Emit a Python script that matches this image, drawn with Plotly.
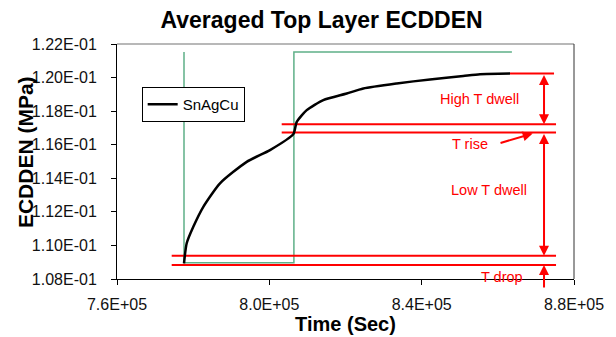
import plotly.graph_objects as go

# ---------------- data ----------------
time_s = [777594, 778303, 780036, 782662, 787048, 794059, 800178, 806297,
          807190, 809816, 814175, 820320, 824680, 833450, 842194, 850937,
          855324, 863202]
ecdden = [0.10893, 0.11013, 0.11111, 0.11230, 0.11370, 0.11498, 0.11568,
          0.11663, 0.11736, 0.11806, 0.11866, 0.11905, 0.11935, 0.11965,
          0.11989, 0.12010, 0.12020, 0.12024]

# scaled temperature profile (green)
temp_t = [777594, 777594, 806450, 806450, 863700]
temp_v = [0.12153, 0.10897, 0.10897, 0.12153, 0.12153]

# red reference levels
red_levels = [0.12024, 0.117226, 0.116732, 0.109387, 0.108833]
red_start = [863202, 803246, 803246, 774364, 774364]
red_end = [874756, 875281, 875281, 875281, 875281]

arrow_t = 872129
trise_tail = (860313, 0.116077)
trise_head = (869154, 0.116672)

x_ticks = [760000, 800000, 840000, 880000]
x_ticktext = ["7.6E+05", "8.0E+05", "8.4E+05", "8.8E+05"]
y_ticks = [0.108, 0.110, 0.112, 0.114, 0.116, 0.118, 0.120, 0.122]
y_ticktext = ["1.08E-01", "1.10E-01", "1.12E-01", "1.14E-01", "1.16E-01",
              "1.18E-01", "1.20E-01", "1.22E-01"]

labels = [("High T dwell", 855061, 0.118714),
          ("T rise", 852698, 0.116065),
          ("Low T dwell", 857687, 0.113297),
          ("T drop", 861022, 0.108149)]

FONT = "Liberation Sans, Arial, sans-serif"
RED = "#ff0000"

fig = go.Figure()

fig.add_trace(go.Scatter(x=temp_t, y=temp_v, mode="lines",
                         line=dict(color="#5fb088", width=1.5),
                         showlegend=False, hoverinfo="skip"))

rx, ry = [], []
for lv, s, e in zip(red_levels, red_start, red_end):
    rx += [s, e, None]
    ry += [lv, lv, None]
fig.add_trace(go.Scatter(x=rx, y=ry, mode="lines",
                         line=dict(color=RED, width=2),
                         showlegend=False, hoverinfo="skip"))

fig.add_trace(go.Scatter(x=time_s, y=ecdden, mode="lines", name="SnAgCu",
                         line=dict(color="black", width=2.5, shape="spline",
                                   smoothing=0.6)))

anns = []
for txt, tx, ty in labels:
    anns.append(dict(x=tx, y=ty, xref="x", yref="y", text=txt,
                     showarrow=False, font=dict(family=FONT, size=14.5, color=RED)))

# double arrows
for top, bot in [(red_levels[0], red_levels[1]), (red_levels[2], red_levels[3])]:
    anns.append(dict(x=arrow_t, y=bot, ax=arrow_t, ay=top, xref="x", yref="y",
                     axref="x", ayref="y", text="", showarrow=True,
                     arrowhead=2, arrowside="end+start", arrowsize=1,
                     arrowwidth=2, arrowcolor=RED))
# T drop arrow from below
anns.append(dict(x=arrow_t, y=red_levels[4], xref="x", yref="y", ax=0, ay=24,
                 text="", showarrow=True, arrowhead=2, arrowsize=1,
                 arrowwidth=2, arrowcolor=RED))
# T rise arrow
anns.append(dict(x=trise_head[0], y=trise_head[1], ax=trise_tail[0], ay=trise_tail[1],
                 xref="x", yref="y", axref="x", ayref="y", text="", showarrow=True,
                 arrowhead=2, arrowsize=1, arrowwidth=2, arrowcolor=RED))

# y axis title
anns.append(dict(x=-0.2013, y=0.54, xref="paper", yref="paper",
                 text="<b>ECDDEN (MPa)</b>", textangle=-90, showarrow=False,
                 xanchor="center", yanchor="middle",
                 font=dict(family=FONT, size=21, color="black")))

fig.update_layout(
    width=616, height=337,
    margin=dict(l=117, r=42, t=44, b=58),
    paper_bgcolor="white", plot_bgcolor="white",
    font=dict(family=FONT, color="black"),
    title=dict(text="<b>Averaged Top Layer ECDDEN</b>", x=0.522, xanchor="center",
               y=0.942, yanchor="middle", font=dict(family=FONT, size=23, color="black")),
    showlegend=True,
    legend=dict(x=0.054, y=0.817, xanchor="left", yanchor="top",
                bgcolor="white", bordercolor="black", borderwidth=1,
                font=dict(family=FONT, size=15, color="black"),
                itemwidth=30, tracegroupgap=0),
    annotations=anns,
    shapes=[
        dict(type="line", xref="paper", yref="paper", x0=0, x1=1, y0=1, y1=1,
             line=dict(color="#a0a0a0", width=1.5)),
        dict(type="line", xref="paper", yref="paper", x0=1, x1=1, y0=0, y1=1,
             line=dict(color="#333333", width=1)),
    ],
)

fig.update_xaxes(range=[760000, 880000], tickmode="array", tickvals=x_ticks,
                 ticktext=x_ticktext, ticks="outside", ticklen=5, tickcolor="black",
                 showline=True, linecolor="black", linewidth=1, showgrid=False,
                 zeroline=False, tickfont=dict(family=FONT, size=16, color="#111111"),
                 ticklabelstandoff=6, automargin=False,
                 title=dict(text="<b>Time (Sec)</b>", standoff=2,
                            font=dict(family=FONT, size=20, color="black")))
fig.update_yaxes(range=[0.108, 0.122], tickmode="array", tickvals=y_ticks,
                 ticktext=y_ticktext, ticks="outside", ticklen=5, tickcolor="black",
                 showline=True, linecolor="black", linewidth=1, showgrid=False,
                 zeroline=False, tickfont=dict(family=FONT, size=16, color="#111111"),
                 ticklabelstandoff=11, automargin=False)

fig.write_html("out.html")
